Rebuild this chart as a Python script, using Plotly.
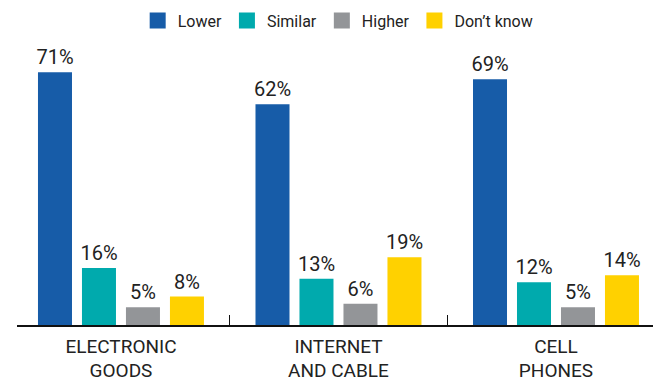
import plotly.graph_objects as go

categories = ["ELECTRONIC<br>GOODS", "INTERNET<br>AND CABLE", "CELL<br>PHONES"]
series_names = ["Lower", "Similar", "Higher", "Don’t know"]
lower = [71, 62, 69]
similar = [16, 13, 12]
higher = [5, 6, 5]
dont_know = [8, 19, 14]
colors = ["#175CA8", "#00AAAD", "#939598", "#FFD100"]

fig = go.Figure()
for name, vals, c in zip(series_names, [lower, similar, higher, dont_know], colors):
    fig.add_trace(go.Bar(
        x=categories, y=vals, name=name, marker_color=c, marker_line_width=0,
        text=[f"{v}%" for v in vals], textposition="outside",
        textfont=dict(size=20, color="#222222"), cliponaxis=False,
        constraintext="none", showlegend=False,
    ))
# legend-only entries with larger square swatches
for name, c in zip(series_names, colors):
    fig.add_trace(go.Scatter(
        x=[categories[0]], y=[None], mode="markers", name=name,
        marker=dict(symbol="square", size=16, color=c), showlegend=True,
        hoverinfo="skip",
    ))

fig.update_layout(
    width=653, height=382,
    margin=dict(l=17, r=0, t=23, b=57, autoexpand=False),
    barmode="group", bargap=0.191, bargroupgap=0.227,
    plot_bgcolor="white", paper_bgcolor="white",
    font=dict(family="Roboto, sans-serif", color="#222222"),
    showlegend=True,
    legend=dict(orientation="h", x=0.505, xanchor="center", y=1.008, yanchor="middle",
                font=dict(size=16, color="#222222"), itemwidth=30,
                traceorder="normal"),
    xaxis=dict(range=[-0.478, 2.446], showline=True, linecolor="#111111", linewidth=1.5,
               ticks="inside", tickson="boundaries", ticklen=10, tickcolor="#111111",
               tickwidth=1, tickfont=dict(size=19, color="#222222"),
               showgrid=False, ticklabelstandoff=3),
    yaxis=dict(range=[0, 84.8], visible=False, showgrid=False),
)
fig.write_html("out.html")
